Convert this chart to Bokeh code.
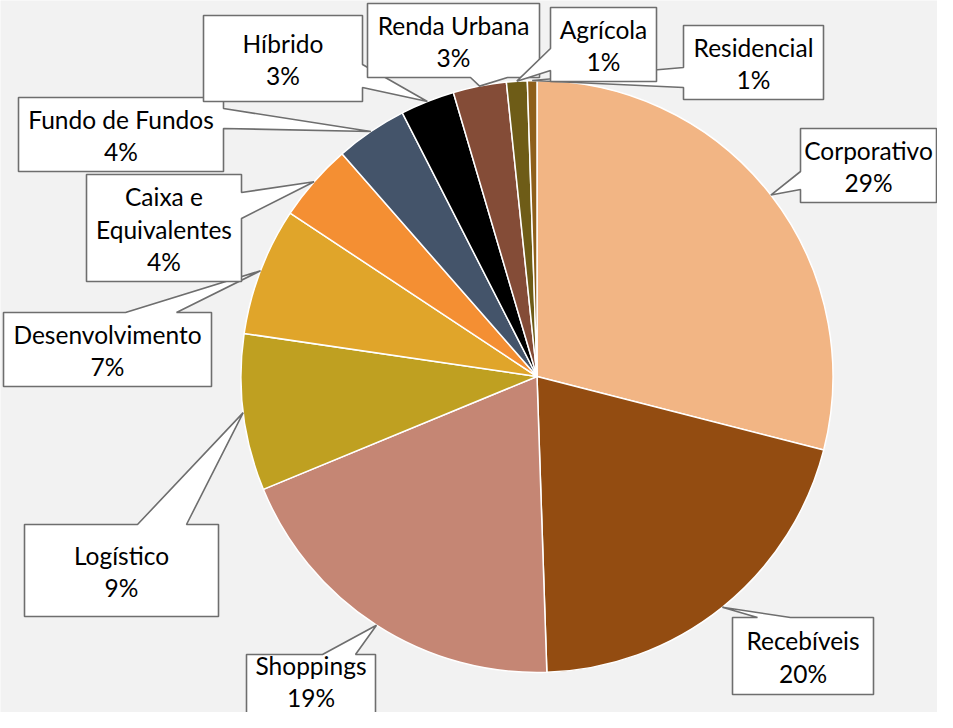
import math
from bokeh.plotting import figure
from bokeh.models import ColumnDataSource, Range1d
from bokeh.core.properties import value
from bokeh.embed import file_html
from bokeh.resources import INLINE

# ---- data ----
categories = ["Corporativo", "Recebíveis", "Shoppings", "Logístico", "Desenvolvimento",
              "Caixa e Equivalentes", "Fundo de Fundos", "Híbrido", "Renda Urbana",
              "Agrícola", "Residencial"]
shares = [29.0, 20.48, 19.31, 8.55, 6.98, 4.25, 3.93, 2.96, 2.91, 1.13, 0.52]
colors = ["#F2B584", "#934C11", "#C58674", "#BFA021", "#E0A52A", "#F48F33",
          "#44546A", "#000000", "#844C37", "#6E5C17", "#8E5F1A"]

# ---- layout (reference pixel coordinates, y measured from the top) ----
H = 728
CX, CY, R = 536.5, 376.0, 296.0
# box: left, top, right, bottom, side of pointer, pointer base start, end, words on first line, text centre y
boxes = {
    "Corporativo":          (800, 128, 936, 202, "left", 171, 189, None, None),
    "Recebíveis":           (732, 617, 873, 694, "top", 757, 790, None, None),
    "Shoppings":            (246, 654, 375, 732, "top", 322, 355, None, 680),
    "Logístico":            (24, 524, 218, 616, "top", 137, 186, None, None),
    "Desenvolvimento":      (3, 312, 211, 386, "top", 125, 176, None, None),
    "Caixa e Equivalentes": (86, 174, 241, 281, "right", 192, 218, 2, None),
    "Fundo de Fundos":      (18, 97, 223, 171, "right", 108, 128, None, None),
    "Híbrido":              (203, 15, 362, 101, "right", 64, 87, None, None),
    "Renda Urbana":         (367, 3, 539, 77, "bottom", 470, 507, None, None),
    "Agrícola":             (550, 7, 656, 81, "left", 48, 70, None, None),
    "Residencial":          (683, 25, 823, 99, "left", 67, 87, None, None),
}
draw_order = ["Corporativo", "Recebíveis", "Shoppings", "Logístico", "Desenvolvimento",
              "Caixa e Equivalentes", "Fundo de Fundos", "Híbrido", "Renda Urbana",
              "Residencial", "Agrícola"]

FONT = "Lato"
FONT_SIZE = "24.5px"
LINE_H = 32.5

def dy(py):
    return H - py

total = sum(shares)
starts, ends, mids = [], [], []
acc = 0.0
for v in shares:
    f0 = acc / total
    acc += v
    f1 = acc / total
    starts.append(math.pi / 2 - 2 * math.pi * f0)
    ends.append(math.pi / 2 - 2 * math.pi * f1)
    mids.append(math.pi / 2 - 2 * math.pi * (f0 + f1) / 2)

p = figure(width=937, height=712, output_backend="svg", toolbar_location=None,
           x_range=Range1d(0, 937), y_range=Range1d(16, 728),
           min_border=0, min_border_left=0, min_border_right=0,
           min_border_top=0, min_border_bottom=0)
p.axis.visible = False
p.grid.visible = False
p.outline_line_color = None
p.background_fill_color = "#F2F2F2"
p.border_fill_color = "#F2F2F2"

src = ColumnDataSource(dict(start=starts, end=ends, color=colors, name=categories))
p.wedge(x=CX, y=dy(CY), radius=R, start_angle="start", end_angle="end",
        direction="clock", fill_color="color", line_color="white", line_width=1.5,
        source=src)

xs, ys = [], []
tx, ty, tt = [], [], []
for name in draw_order:
    i = categories.index(name)
    l, t, r, b, side, a0, a1, brk, tcy = boxes[name]
    th = mids[i]
    tip = (CX + R * math.cos(th), CY - R * math.sin(th))
    if side == "top":
        pts = [(l, t), (a0, t), tip, (a1, t), (r, t), (r, b), (l, b)]
    elif side == "right":
        pts = [(l, t), (r, t), (r, a0), tip, (r, a1), (r, b), (l, b)]
    elif side == "bottom":
        pts = [(l, t), (r, t), (r, b), (a1, b), tip, (a0, b), (l, b)]
    else:
        pts = [(l, t), (r, t), (r, b), (l, b), (l, a1), tip, (l, a0)]
    xs.append([q[0] for q in pts])
    ys.append([dy(q[1]) for q in pts])
    pct = f"{int(shares[i] / total * 100 + 0.5)}%"
    if brk:
        words = name.split(" ")
        lines = [" ".join(words[:brk]), " ".join(words[brk:]), pct]
    else:
        lines = [name, pct]
    n = len(lines)
    bx = (l + r) / 2
    byc = tcy if tcy is not None else (t + b) / 2
    for k, s in enumerate(lines):
        tx.append(bx)
        ty.append(dy(byc + (k - (n - 1) / 2) * LINE_H + 1))
        tt.append(s)

p.patches(xs=xs, ys=ys, fill_color="white", line_color="#6E6E6E", line_width=1.6)
p.text(x=tx, y=ty, text=tt, text_font=value(FONT), text_font_size=FONT_SIZE,
       text_color="#000000", text_align="center", text_baseline="middle")

open("out.html", "w").write(file_html(p, INLINE))
